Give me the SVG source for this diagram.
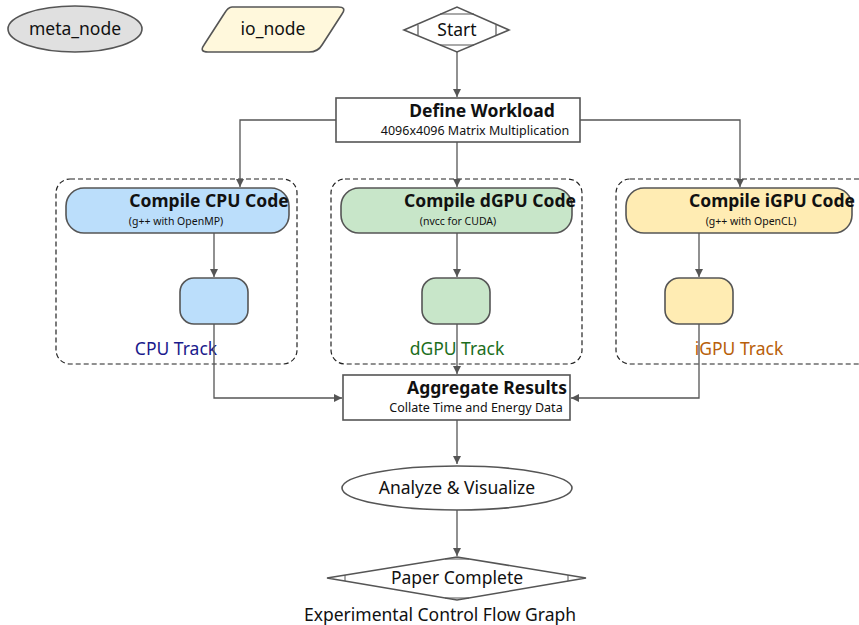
<svg xmlns="http://www.w3.org/2000/svg" width="859" height="625" viewBox="0 0 859 625">
<defs>
<marker id="arr" viewBox="0 0 10 10" refX="10" refY="5" markerWidth="8" markerHeight="8" markerUnits="userSpaceOnUse" orient="auto">
<path d="M0,0 L10,5 L0,10 z" fill="#555"/>
</marker>
<style>
text{font-family:"Noto Sans","Open Sans","DejaVu Sans",sans-serif;fill:#111}
.shape{stroke:#555;stroke-width:1.6}
.edge{fill:none;stroke:#555;stroke-width:1.3;marker-end:url(#arr)}
.cluster{fill:none;stroke:#222;stroke-width:1.2;stroke-dasharray:5,3}
.t{font-size:17.5px;text-anchor:middle}
.b{font-size:17.5px;font-weight:bold;text-anchor:middle}
.s{font-size:12.5px;text-anchor:middle}
.xs{font-size:10.5px;text-anchor:middle}
</style>
</defs>
<rect width="859" height="625" fill="#fff"/>

<g id="clusters">
<rect class="cluster" x="56" y="179" width="241" height="185" rx="14"/>
<rect class="cluster" x="331" y="179" width="251" height="185" rx="14"/>
<rect class="cluster" x="616" y="179" width="258" height="185" rx="14"/>
<text class="t" x="176" y="355" style="fill:#1a1a8c">CPU Track</text>
<text class="t" x="457" y="355" style="fill:#1d6e1d">dGPU Track</text>
<text class="t" x="739" y="355" style="fill:#b8600a">iGPU Track</text>
</g>

<g id="connectors">
<path class="edge" d="M457,52 V97"/>
<path class="edge" d="M336,120 H240 V187"/>
<path class="edge" d="M457,142 V187"/>
<path class="edge" d="M580,120 H740 V187"/>
<path class="edge" d="M214,233 V277"/>
<path class="edge" d="M457,233 V277"/>
<path class="edge" d="M699,233 V277"/>
<path class="edge" d="M214,324 V398 H342"/>
<path class="edge" d="M457,324 V374"/>
<path class="edge" d="M699,324 V398 H571"/>
<path class="edge" d="M457,420 V464"/>
<path class="edge" d="M457,510 V556"/>
</g>

<g id="meta_node">
<ellipse class="shape" cx="75" cy="29" rx="67" ry="23" fill="#e0e0e0"/>
<text class="t" x="75" y="35">meta_node</text>
</g>

<g id="io_node">
<path class="shape" d="M232,7 H338 Q347,7 342,14 L322,45 Q318,52 309,52 H208 Q199,52 204,45 L224,14 Q228,7 232,7 Z" fill="#fff8dc"/>
<text class="t" x="273" y="35">io_node</text>
</g>

<g id="start">
<polygon class="shape" points="404,30 457,7 509,30 457,52" fill="#fff"/>
<path d="M440,14 H474 M440,45 H474 M418,25 V35 M496,25 V35" stroke="#555" stroke-width="1.2" fill="none"/>
<text class="t" x="457" y="36">Start</text>
</g>

<g id="define_workload">
<rect class="shape" x="336" y="98" width="244" height="44" fill="#fff"/>
<text class="b" x="482" y="117">Define Workload</text>
<text class="s" x="475" y="135">4096x4096 Matrix Multiplication</text>
</g>

<g id="compile_cpu">
<rect class="shape" x="66" y="188" width="223" height="45" rx="18" fill="#bbdefb"/>
<text class="b" x="209" y="207">Compile CPU Code</text>
<text class="xs" x="176" y="225">(g++ with OpenMP)</text>
</g>
<g id="run_cpu">
<rect class="shape" x="180" y="278" width="68" height="46" rx="14" fill="#bbdefb"/>
</g>

<g id="compile_dgpu">
<rect class="shape" x="341" y="188" width="231" height="45" rx="18" fill="#c8e6c9"/>
<text class="b" x="490" y="207">Compile dGPU Code</text>
<text class="xs" x="458" y="225">(nvcc for CUDA)</text>
</g>
<g id="run_dgpu">
<rect class="shape" x="422" y="278" width="68" height="46" rx="14" fill="#c8e6c9"/>
</g>

<g id="compile_igpu">
<rect class="shape" x="626" y="188" width="226" height="45" rx="18" fill="#ffecb3"/>
<text class="b" x="772" y="207">Compile iGPU Code</text>
<text class="xs" x="751" y="225">(g++ with OpenCL)</text>
</g>
<g id="run_igpu">
<rect class="shape" x="665" y="278" width="68" height="46" rx="14" fill="#ffecb3"/>
</g>

<g id="aggregate">
<rect class="shape" x="343" y="375" width="227" height="45" fill="#fff"/>
<text class="b" x="487" y="394">Aggregate Results</text>
<text class="s" x="476" y="412">Collate Time and Energy Data</text>
</g>

<g id="analyze">
<ellipse class="shape" cx="457" cy="488" rx="115" ry="22" fill="#fff"/>
<text class="t" x="457" y="494">Analyze &amp; Visualize</text>
</g>

<g id="paper_complete">
<polygon class="shape" points="327,578 457,557 586,578 457,600" fill="#fff"/>
<path d="M445,559 H469 M445,598 H469 M345,575 V581 M568,575 V581" stroke="#555" stroke-width="1" fill="none"/>
<text class="t" x="457" y="584">Paper Complete</text>
</g>

<text class="t" x="440" y="621">Experimental Control Flow Graph</text>
</svg>
